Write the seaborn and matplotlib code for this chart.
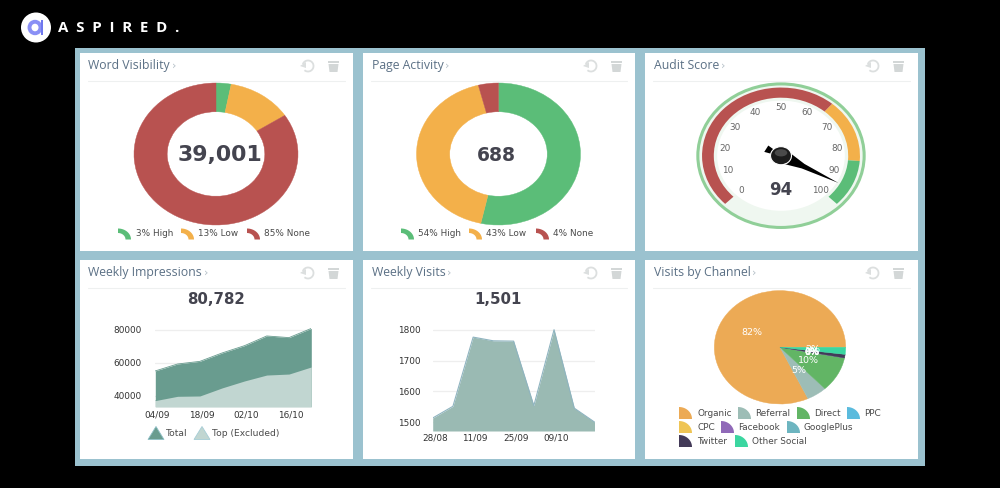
import numpy as np
import pandas as pd
import seaborn as sns
import matplotlib
matplotlib.use("Agg")
import matplotlib.pyplot as plt
from matplotlib.transforms import ScaledTranslation
from matplotlib.patches import Rectangle, Wedge, Ellipse, Polygon, Arc, Circle

# data
word_values = [3, 13, 85]
word_labels = ["3% High", "13% Low", "85% None"]
page_values = [54, 43, 4]
page_labels = ["54% High", "43% Low", "4% None"]
gauge_ticks = [0, 10, 20, 30, 40, 50, 60, 70, 80, 90, 100]
gauge_bands = [(0, 65), (65, 85), (85, 100)]
audit_score = 94

imp_weeks = list(range(8))
imp_total = [55000, 59200, 60800, 65900, 70300, 76200, 75200, 80782]
imp_top = [37000, 39600, 39800, 44700, 48900, 52500, 53100, 57400]
imp_ticks = ["04/09", "18/09", "02/10", "16/10"]
imp_yticks = [40000, 60000, 80000]

visit_weeks = list(range(9))
visit_total = [1514, 1552, 1776, 1764, 1763, 1554, 1800, 1546, 1501]
visit_ticks = ["28/08", "11/09", "25/09", "09/10"]
visit_yticks = [1500, 1600, 1700, 1800]

channels = ["Organic", "Referral", "Direct", "PPC", "CPC", "Facebook", "GooglePlus", "Twitter", "Other Social"]
channel_values = [82, 5, 10, 0, 0, 0, 0, 1, 2]
channel_colors = ["#ecaa55", "#9dbdb6", "#62b565", "#5bbbdd", "#efc555", "#9069b8", "#6db5c0", "#433a58", "#3bd6a0"]

GREEN, YELLOW, RED = "#5bbd78", "#f3b04a", "#b85250"
status_colors = [GREEN, YELLOW, RED]
TITLE = "#5b7085"
DARK = "#44444f"
TEXT = "#4a4a4a"

sns.set_theme(style="white")
plt.rcParams["font.family"] = ["DejaVu Sans"]

fig = plt.figure(figsize=(10, 4.88), dpi=100, facecolor="black")
bg = fig.add_axes([0, 0, 1, 1], zorder=0)
bg.set_xlim(0, 1000)
bg.set_ylim(488, 0)
bg.axis("off")


def px_axes(x0, y0, x1, y1):
    ax = fig.add_axes([x0 / 1000, 1 - y1 / 488, (x1 - x0) / 1000, (y1 - y0) / 488], zorder=2)
    ax.patch.set_alpha(0)
    return ax


def arc_icon(x, y, color):
    t = np.radians(np.linspace(90, 0, 20))
    cx, cy = x, y + 11.5
    outer = np.c_[cx + 13 * np.cos(t), cy - 11 * np.sin(t)]
    inner = np.c_[cx + 7.5 * np.cos(t[::-1]), cy - 6.5 * np.sin(t[::-1])]
    bg.add_patch(Polygon(np.r_[outer, inner], color=color, lw=0))


def slice_icon(x, y, color):
    t = np.radians(np.linspace(90, 0, 20))
    pts = np.c_[x + 13 * np.cos(t), y + 6 - 12 * np.sin(t)]
    bg.add_patch(Polygon(np.r_[[[x, y + 6]], pts], color=color, lw=0))


def seal_wedges(wedges):
    for w in wedges:
        w.set_edgecolor(w.get_facecolor())
        w.set_linewidth(0.3)


def card(x0, y0, x1, y1, title):
    bg.add_patch(Rectangle((x0, y0), x1 - x0, y1 - y0, color="white", lw=0))
    t = bg.text(x0 + 8.5, y0 + 12.5, title, color=TITLE, fontsize=8.8, family="Open Sans", va="center")
    fig.canvas.draw()
    w = t.get_window_extent().width
    bg.text(x0 + 8.5 + w + 2, y0 + 12.5, "›", color="#b5c0c8", fontsize=8, va="center")
    bg.plot([x0 + 8, x1 - 8], [y0 + 27.5, y0 + 27.5], color="#eef0f0", lw=0.8)
    # refresh and trash icons
    bg.add_patch(Arc((x0 + 228, y0 + 13), 11, 11, theta1=-160, theta2=130, color="#dcdfdf", lw=1.3))
    bg.add_patch(Polygon([[x0 + 220, y0 + 13], [x0 + 226, y0 + 9], [x0 + 226, y0 + 15]], color="#dcdfdf", lw=0))
    bg.add_patch(Rectangle((x0 + 248, y0 + 8), 11, 2, color="#d3d7d7", lw=0))
    bg.add_patch(Polygon([[x0 + 248.5, y0 + 11], [x0 + 258.5, y0 + 11], [x0 + 257.5, y0 + 19], [x0 + 249.5, y0 + 19]],
                         color="#d3d7d7", lw=0))


def donut(cx, cy, values, center_text, size, text_dx):
    ax = px_axes(cx - 82, cy - 71, cx + 82, cy + 71)
    wedges, _ = ax.pie(values, colors=status_colors, startangle=90, counterclock=False, radius=1,
                       wedgeprops=dict(width=0.405))
    seal_wedges(wedges)
    ax.set_aspect("auto")
    ax.set_xlim(-1, 1)
    ax.set_ylim(-1, 1)
    ax.text(text_dx, -0.02, center_text, ha="center", va="center", fontsize=size, fontweight="bold", color=DARK)


# background panel, logo
bg.add_patch(Rectangle((75, 47.5), 849.5, 418.5, color="#9bc2cf", lw=0))
bg.add_patch(Circle((36, 27.5), 15, color="white", lw=0))
bg.add_patch(Ellipse((35, 27.5), 11, 11.5, fill=False, ec="#8a90f5", lw=2.8))
bg.add_patch(Rectangle((40.5, 20), 2.8, 14.5, color="#6f78ee", lw=0))
bg.text(58, 27.5, "A  S  P  I  R  E  D  .", color="white", fontsize=10.8, fontweight="bold", va="center",
        family="Open Sans")

card(80, 53, 353, 251, "Word Visibility")
card(363, 53, 635, 251, "Page Activity")
card(645, 53, 918, 251, "Audit Score")
card(80, 260, 353, 459, "Weekly Impressions")
card(363, 260, 635, 459, "Weekly Visits")
card(645, 260, 918, 459, "Visits by Channel")

# donuts
donut(216, 154, word_values, "39,001", 15.8, 0.05)
donut(498.5, 154, page_values, "688", 13.5, -0.024)
for ix, tx, lab, col in zip([118, 181, 247], [136, 198, 264], word_labels, status_colors):
    arc_icon(ix, 228, col)
    bg.text(tx, 233.5, lab, fontsize=6.4, color=TEXT, va="center")
for ix, tx, lab, col in zip([401, 469, 536], [418, 486, 553], page_labels, status_colors):
    arc_icon(ix, 228, col)
    bg.text(tx, 233.5, lab, fontsize=6.4, color=TEXT, va="center")

# gauge
gx = px_axes(781 - 88, 155.7 - 76, 781 + 88, 155.7 + 76)
gx.set_xlim(-88 / 84, 88 / 84)
gx.set_ylim(-76 / 72.5, 76 / 72.5)
gx.axis("off")
gx.add_patch(Circle((0, 0), 0.99, fc="#eff7f0", ec="#90cf98", lw=2.2))
gx.add_patch(Circle((0, 0), 0.76, fc="white", lw=0))
for (a, b), col in zip(gauge_bands, [RED, YELLOW, GREEN]):
    gx.add_patch(Wedge((0, 0), 0.94, 225 - 2.7 * b, 225 - 2.7 * a, width=0.14, fc=col, ec="none"))
for v in gauge_ticks:
    ang = np.radians(225 - 2.7 * v)
    gx.text(0.67 * np.cos(ang), 0.67 * np.sin(ang), str(v), ha="center", va="center", fontsize=6.4,
            color="#666666")
ang = np.radians(225 - 2.7 * audit_score)
u = np.array([np.cos(ang), np.sin(ang)])
n = np.array([-u[1], u[0]])
gx.add_patch(Polygon([0.78 * u, 0.3 * u + 0.035 * n, 0.1 * u + 0.08 * n, 0.1 * u - 0.08 * n, 0.3 * u - 0.035 * n],
                     color="black", lw=0))
gx.add_patch(Polygon([-0.1 * u + 0.03 * n, -0.2 * u + 0.05 * n, -0.2 * u - 0.05 * n, -0.1 * u - 0.03 * n],
                     color="black", lw=0))
gx.add_patch(Circle((0, 0), 0.125, fc="#1c1c1c", ec="white", lw=0.8))
gx.add_patch(Ellipse((0, 0.04), 0.15, 0.1, fc="#4a4a4a", lw=0))
gx.text(0, -0.47, str(audit_score), ha="center", va="center", fontsize=12, fontweight="bold", color=DARK)

# weekly impressions
bg.text(216, 300, "80,782", ha="center", va="center", fontsize=10.8, fontweight="bold", color=DARK)
imp = pd.DataFrame({"week": imp_weeks, "total": imp_total, "top": imp_top})
ax = px_axes(155.3, 325, 311.3, 406.7)
ax.set_ylim(33300, 80000 + 4.7 / 33 * 20000)
ax.set_xlim(0, 7)
sns.lineplot(data=imp, x="week", y="total", color="#699c8f", lw=0.6, ax=ax)
sns.lineplot(data=imp, x="week", y="top", color="#c1d6d1", lw=0.6, ax=ax)
ax.fill_between(imp["week"], imp["total"], 33300, color="#699c8f", lw=0, zorder=2)
ax.fill_between(imp["week"], imp["top"], 33300, color="#c1d6d1", lw=0, zorder=2.1)
ax.set_yticks(imp_yticks)
ax.set_yticklabels([str(v) for v in imp_yticks])
ax.set_xticks(imp_weeks[::2])
ax.set_xticklabels(imp_ticks)

# weekly visits
bg.text(498, 300, "1,501", ha="center", va="center", fontsize=10.8, fontweight="bold", color=DARK)
vis = pd.DataFrame({"week": visit_weeks, "total": visit_total})
ax2 = px_axes(432.7, 325, 594.5, 431)
ax2.set_ylim(1472, 1800 + 4.7 / 30.9 * 100)
ax2.set_xlim(0, 8)
sns.lineplot(data=vis, x="week", y="total", color="#8fb4c0", lw=0.8, ax=ax2, zorder=3)
ax2.fill_between(vis["week"], vis["total"], 1472, color="#9abab3", lw=0, zorder=2)
ax2.set_yticks(visit_yticks)
ax2.set_yticklabels([str(v) for v in visit_yticks])
ax2.set_xticks(visit_weeks[::2][:4])
ax2.set_xticklabels(visit_ticks)

for a, ypad, xpad in ((ax, 10, 2.5), (ax2, 9, 1.5)):
    a.set_xlabel("")
    a.set_ylabel("")
    sns.despine(ax=a, left=True, bottom=True, top=True, right=True)
    a.grid(axis="y", color="#eeeeee", lw=0.9, zorder=0)
    a.set_axisbelow(True)
    a.tick_params(axis="both", length=0, labelsize=6.4, labelcolor="#333333")
    a.tick_params(axis="y", pad=ypad)
    a.tick_params(axis="x", pad=xpad)
    for lab in a.get_xticklabels():
        lab.set_transform(lab.get_transform() + ScaledTranslation(2 / 100, 0, fig.dpi_scale_trans))

# area legend
for x, col, edge, tx, lab in [(148, "#699c8f", "#8fc0c8", 166, "Total"), (194, "#c1d6d1", "#a5cdd6", 212, "Top (Excluded)")]:
    bg.add_patch(Polygon([[x, 439.5], [x + 16, 439.5], [x + 8, 426.5]], fc=col, ec=edge, lw=0.6))
    bg.text(tx, 433, lab, fontsize=6.6, color=TEXT, va="center")

# channel pie
px = px_axes(780 - 65.7, 347.3 - 56.7, 780 + 65.7, 347.3 + 56.7)
wedges, _, pct = px.pie(channel_values, colors=channel_colors, startangle=0, counterclock=True, radius=1,
                        autopct="%.0f%%", pctdistance=0.5, textprops=dict(color="white", fontsize=6.8))
seal_wedges(wedges)
px.set_aspect("auto")
px.set_xlim(-1, 1)
px.set_ylim(-1, 1)
legend_rows = [(413, [(679, 697), (738, 755), (797, 814), (847, 864)]),
               (427, [(679, 697), (721, 738), (787, 804)]),
               (441, [(679, 697), (735, 752)])]
k = 0
for y, row in legend_rows:
    for ix, tx in row:
        slice_icon(ix, y, channel_colors[k])
        bg.text(tx, y, channels[k], fontsize=6.4, color=TEXT, va="center")
        k += 1

fig.savefig("out.png", dpi=100, facecolor="black")
